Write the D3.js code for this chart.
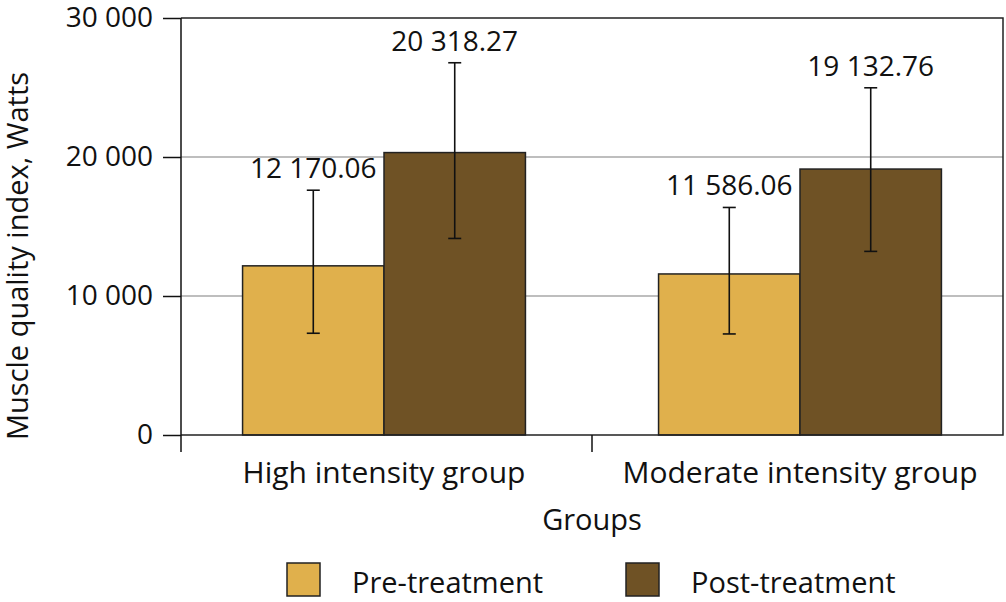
<!doctype html>
<html>
<head>
<meta charset="utf-8">
<style>
  body { margin: 0; background: #fff; }
  text { font-family: "Open Sans", sans-serif; fill: #111; }
</style>
<script src="https://d3js.org/d3.v7.min.js"></script>
</head>
<body>
<script>
  // data
  var groups = ["High intensity group", "Moderate intensity group"];
  var series = ["Pre-treatment", "Post-treatment"];
  var preValues = [12170.06, 11586.06];
  var postValues = [20318.27, 19132.76];
  var preErrLow = [7320, 7270];
  var preErrHigh = [17610, 16370];
  var postErrLow = [14140, 13210];
  var postErrHigh = [26780, 24980];
  var yTicks = [0, 10000, 20000, 30000];
  var colors = ["#e0b04c", "#6f5225"];

  var canvasWidth = 1006;
  var canvasHeight = 602;
  var plotLeft = 181, plotRight = 1003, plotTop = 18, plotBottom = 435;

  var svg = d3.select("body").append("svg")
      .attr("width", canvasWidth)
      .attr("height", canvasHeight);

  var xScale = d3.scaleBand()
      .domain(groups)
      .range([plotLeft, plotRight])
      .paddingInner(0.32)
      .paddingOuter(0.148);
  var xSub = d3.scaleBand()
      .domain(series)
      .range([0, xScale.bandwidth()]);
  var yScale = d3.scaleLinear()
      .domain([0, 30000])
      .range([plotBottom, plotTop]);

  var fmt = function(v) {
    return d3.format(",")(v).replace(/,/g, " ");
  };

  // grid lines
  svg.append("g").selectAll("line")
      .data(yTicks.filter(function(d) { return d > 0 && d < 30000; }))
      .enter().append("line")
      .attr("x1", plotLeft).attr("x2", plotRight)
      .attr("y1", function(d) { return yScale(d); })
      .attr("y2", function(d) { return yScale(d); })
      .attr("stroke", "#a8a8a8")
      .attr("stroke-width", 1.5);

  // rows: one per bar
  var rows = [];
  groups.forEach(function(g, i) {
    rows.push({ g: g, s: series[0], v: preValues[i], lo: preErrLow[i], hi: preErrHigh[i], c: colors[0] });
    rows.push({ g: g, s: series[1], v: postValues[i], lo: postErrLow[i], hi: postErrHigh[i], c: colors[1] });
  });

  // bars
  svg.append("g").selectAll("rect")
      .data(rows)
      .enter().append("rect")
      .attr("x", function(d) { return xScale(d.g) + xSub(d.s); })
      .attr("y", function(d) { return yScale(d.v); })
      .attr("width", xSub.bandwidth())
      .attr("height", function(d) { return yScale(0) - yScale(d.v); })
      .attr("fill", function(d) { return d.c; })
      .attr("stroke", "#222")
      .attr("stroke-width", 1.5);

  // frame (top, right, bottom)
  svg.append("path")
      .attr("d", "M" + plotLeft + "," + yScale(30000) + "H" + plotRight + "V" + plotBottom + "H" + plotLeft)
      .attr("fill", "none")
      .attr("stroke", "#222")
      .attr("stroke-width", 1.5);

  // error bars
  var cx = function(d) { return xScale(d.g) + xSub(d.s) + xSub.bandwidth() / 2; };
  var eb = svg.append("g").selectAll("g")
      .data(rows)
      .enter().append("g")
      .attr("stroke", "#111")
      .attr("stroke-width", 1.6);
  eb.append("line")
      .attr("x1", cx).attr("x2", cx)
      .attr("y1", function(d) { return yScale(d.lo); })
      .attr("y2", function(d) { return yScale(d.hi); });
  eb.append("line")
      .attr("x1", function(d) { return cx(d) - 6.5; })
      .attr("x2", function(d) { return cx(d) + 6.5; })
      .attr("y1", function(d) { return yScale(d.lo); })
      .attr("y2", function(d) { return yScale(d.lo); });
  eb.append("line")
      .attr("x1", function(d) { return cx(d) - 6.5; })
      .attr("x2", function(d) { return cx(d) + 6.5; })
      .attr("y1", function(d) { return yScale(d.hi); })
      .attr("y2", function(d) { return yScale(d.hi); });

  // value labels
  svg.append("g").selectAll("text")
      .data(rows)
      .enter().append("text")
      .attr("x", cx)
      .attr("y", function(d) { return yScale(d.hi) - 12; })
      .attr("text-anchor", "middle")
      .attr("font-size", "28px")
      .text(function(d) { return fmt(d.v); });

  // y axis
  var yAxis = svg.append("g")
      .attr("transform", "translate(" + plotLeft + ",0)")
      .call(d3.axisLeft(yScale).tickValues(yTicks).tickSize(18).tickPadding(10).tickFormat(fmt));
  yAxis.select(".domain").remove();
  yAxis.selectAll(".tick line").attr("stroke", "#111").attr("stroke-width", 1.5);
  yAxis.selectAll(".tick text")
      .attr("font-size", "28px")
      .attr("font-family", "Open Sans, sans-serif")
      .attr("fill", "#111");
  svg.append("line")
      .attr("x1", plotLeft).attr("x2", plotLeft)
      .attr("y1", yScale(30000)).attr("y2", plotBottom + 17)
      .attr("stroke", "#111").attr("stroke-width", 1.5);

  // category separator tick
  var sepX = (xScale(groups[0]) + xScale.bandwidth() + xScale(groups[1])) / 2;
  svg.append("line")
      .attr("x1", sepX).attr("x2", sepX)
      .attr("y1", plotBottom).attr("y2", plotBottom + 17)
      .attr("stroke", "#111").attr("stroke-width", 1.5);

  // category labels
  svg.append("g").selectAll("text")
      .data(groups)
      .enter().append("text")
      .attr("x", function(d) { return xScale(d) + xScale.bandwidth() / 2; })
      .attr("y", 483)
      .attr("text-anchor", "middle")
      .attr("font-size", "30px")
      .text(function(d) { return d; });

  // axis titles
  svg.append("text")
      .attr("x", sepX)
      .attr("y", 530)
      .attr("text-anchor", "middle")
      .attr("font-size", "29px")
      .text("Groups");
  svg.append("text")
      .attr("transform", "translate(28,256) rotate(-90)")
      .attr("text-anchor", "middle")
      .attr("font-size", "29px")
      .text("Muscle quality index, Watts");

  // legend
  var legendX = [287, 626];
  var lg = svg.append("g").selectAll("g")
      .data(series)
      .enter().append("g")
      .attr("transform", function(d, i) { return "translate(" + legendX[i] + ",563)"; });
  lg.append("rect")
      .attr("width", 33).attr("height", 33)
      .attr("fill", function(d, i) { return colors[i]; })
      .attr("stroke", "#222")
      .attr("stroke-width", 1.5);
  lg.append("text")
      .attr("x", 65)
      .attr("y", 30)
      .attr("font-size", "29px")
      .text(function(d) { return d; });
</script>
</body>
</html>
